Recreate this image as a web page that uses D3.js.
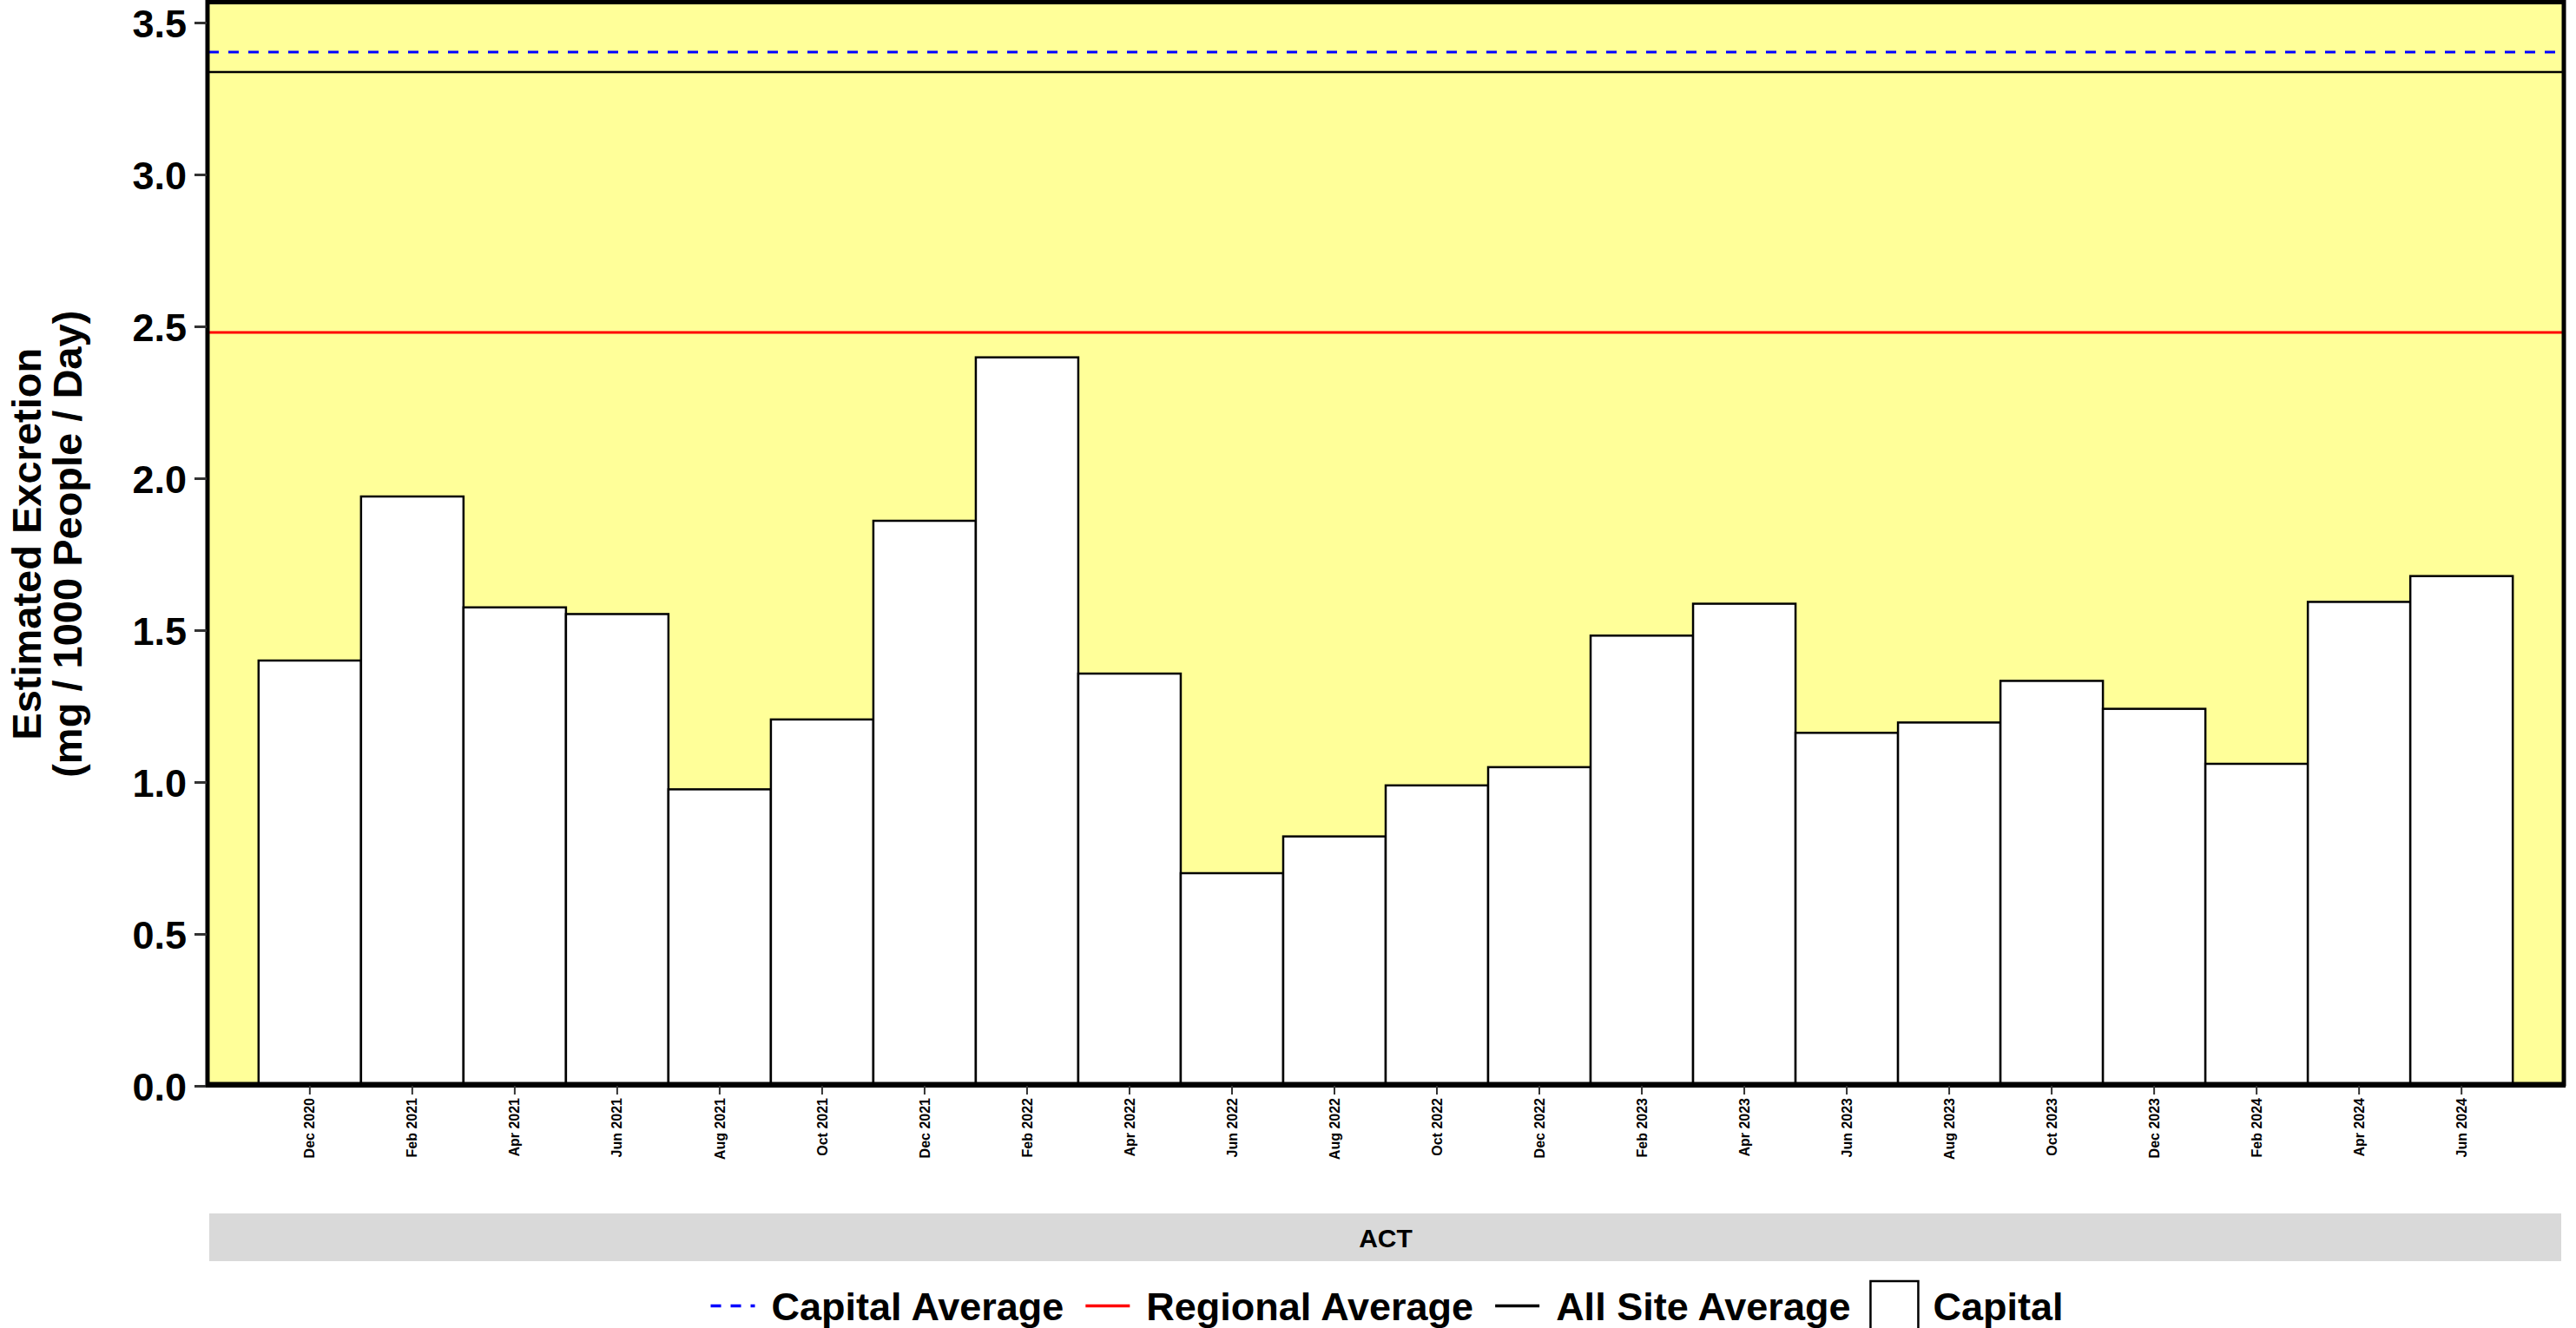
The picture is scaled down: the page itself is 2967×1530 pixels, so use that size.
<!DOCTYPE html>
<html>
<head>
<meta charset="utf-8">
<script src="https://cdn.jsdelivr.net/npm/d3@7"></script>
<style>
  body { margin: 0; background: #fff; }
  svg { display: block; font-family: "Liberation Sans", Arial, sans-serif; font-weight: bold; }
</style>
</head>
<body>
<svg id="chart" width="2967" height="1530"></svg>
<script>
const months = [
  "Dec 2020", "Feb 2021", "Apr 2021", "Jun 2021", "Aug 2021", "Oct 2021",
  "Dec 2021", "Feb 2022", "Apr 2022", "Jun 2022", "Aug 2022", "Oct 2022",
  "Dec 2022", "Feb 2023", "Apr 2023", "Jun 2023", "Aug 2023", "Oct 2023",
  "Dec 2023", "Feb 2024", "Apr 2024", "Jun 2024"
];
const capitalValues = [
  1.40, 1.94, 1.575, 1.553, 0.976, 1.206,
  1.86, 2.398, 1.357, 0.70, 0.821, 0.989,
  1.049, 1.482, 1.587, 1.162, 1.196, 1.333,
  1.241, 1.06, 1.593, 1.678
];
const yTicks = [0, 0.5, 1.0, 1.5, 2.0, 2.5, 3.0, 3.5];

// reference lines
const capitalAverage = 3.403;
const regionalAverage = 2.48;
const allSiteAverage = 3.337;

const facetLabel = "ACT";
const legendItems = [
  { label: "Capital Average", type: "line", color: "#0000ff", dash: "12,11" },
  { label: "Regional Average", type: "line", color: "#ff0000", dash: null },
  { label: "All Site Average", type: "line", color: "#000000", dash: null },
  { label: "Capital", type: "box" }
];

const panel = { left: 240, right: 2952, top: 2.5, bottom: 1251 };
const panelFill = "#ffff99";

const svg = d3.select("#chart");

const x = d3.scaleBand()
  .domain(months)
  .range([panel.left, panel.right])
  .paddingInner(0)
  .paddingOuter(0.49);

const y = d3.scaleLinear()
  .domain([0, 3.5])
  .range([1251, 26]);

// panel background
svg.append("rect")
  .attr("x", panel.left)
  .attr("y", panel.top)
  .attr("width", panel.right - panel.left)
  .attr("height", panel.bottom - panel.top)
  .attr("fill", panelFill);

// bars
svg.append("g")
  .selectAll("rect")
  .data(months)
  .join("rect")
  .attr("x", d => x(d))
  .attr("y", (d, i) => y(capitalValues[i]))
  .attr("width", x.bandwidth())
  .attr("height", (d, i) => y(0) - y(capitalValues[i]))
  .attr("fill", "#ffffff")
  .attr("stroke", "#000")
  .attr("stroke-width", 2.5);

// horizontal average lines
const hLines = [
  { value: regionalAverage, color: "#ff0000", width: 3, dash: null },
  { value: allSiteAverage, color: "#000000", width: 2.5, dash: null },
  { value: capitalAverage, color: "#0000ff", width: 3, dash: "12,11" }
];
svg.append("g")
  .selectAll("line")
  .data(hLines)
  .join("line")
  .attr("x1", panel.left)
  .attr("x2", panel.right)
  .attr("y1", d => y(d.value))
  .attr("y2", d => y(d.value))
  .attr("stroke", d => d.color)
  .attr("stroke-width", d => d.width)
  .attr("stroke-dasharray", d => d.dash);

// panel border
svg.append("rect")
  .attr("x", panel.left - 1)
  .attr("y", panel.top)
  .attr("width", panel.right - panel.left + 2)
  .attr("height", panel.bottom - panel.top - 2)
  .attr("fill", "none")
  .attr("stroke", "#000")
  .attr("stroke-width", 5);

// y axis
const yAxis = svg.append("g")
  .attr("transform", `translate(${panel.left - 2},0)`)
  .call(d3.axisLeft(y).tickValues(yTicks).tickFormat(d3.format(".1f")).tickSize(14).tickPadding(9));
yAxis.select(".domain").remove();
yAxis.selectAll(".tick line").attr("stroke", "#333").attr("stroke-width", 3);
yAxis.selectAll(".tick text")
  .attr("fill", "#000")
  .style("font-size", "45px")
  .style("font-family", "'Liberation Sans', Arial, sans-serif")
  .style("font-weight", "bold")
  .attr("dy", "0.36em");

// x axis
const xAxis = svg.append("g")
  .attr("transform", `translate(0,${panel.bottom})`)
  .call(d3.axisBottom(x).tickSize(10).tickPadding(4));
xAxis.select(".domain")
  .attr("stroke", "#000")
  .attr("stroke-width", 6)
  .attr("d", `M${panel.left - 3},-1H${panel.right + 3}`);
xAxis.selectAll(".tick line").attr("stroke", "#333").attr("stroke-width", 2);
xAxis.selectAll(".tick text")
  .attr("fill", "#000")
  .style("font-size", "16px")
  .style("font-family", "'Liberation Sans', Arial, sans-serif")
  .style("font-weight", "bold")
  .attr("transform", "rotate(-90)")
  .attr("text-anchor", "end")
  .attr("x", -14)
  .attr("y", 0)
  .attr("dy", "0.35em");

// y axis title, two lines
const yTitle = svg.append("text")
  .attr("transform", `translate(0,${(panel.top + panel.bottom) / 2}) rotate(-90)`)
  .attr("text-anchor", "middle")
  .style("font-size", "47px");
yTitle.append("tspan").attr("x", 0).attr("y", 47).text("Estimated Excretion");
yTitle.append("tspan").attr("x", 0).attr("y", 94).text("(mg / 1000 People / Day)");

// facet strip (below the panel)
svg.append("rect")
  .attr("x", panel.left + 1)
  .attr("y", 1398)
  .attr("width", panel.right - panel.left - 3)
  .attr("height", 55)
  .attr("fill", "#d9d9d9");
svg.append("text")
  .attr("x", (panel.left + panel.right) / 2)
  .attr("y", 1426)
  .attr("dy", "0.36em")
  .attr("text-anchor", "middle")
  .style("font-size", "30px")
  .text(facetLabel);

// legend
const keySize = 57;
const keyTop = 1476;
const textGap = 16;
const itemGap = 22;
const legend = svg.append("g");
let cursor = 0;
legendItems.forEach(item => {
  const g = legend.append("g").attr("transform", `translate(${cursor},0)`);
  if (item.type === "line") {
    g.append("line")
      .attr("x1", 3).attr("x2", keySize - 3)
      .attr("y1", keyTop + keySize / 2).attr("y2", keyTop + keySize / 2)
      .attr("stroke", item.color)
      .attr("stroke-width", 3.5)
      .attr("stroke-dasharray", item.dash);
  } else {
    g.append("rect")
      .attr("x", 1).attr("y", keyTop)
      .attr("width", keySize - 2).attr("height", keySize)
      .attr("fill", "#fff")
      .attr("stroke", "#000")
      .attr("stroke-width", 2.5);
  }
  const t = g.append("text")
    .attr("x", keySize + textGap)
    .attr("y", keyTop + keySize / 2)
    .attr("dy", "0.36em")
    .style("font-size", "45px")
    .text(item.label);
  cursor += keySize + textGap + t.node().getComputedTextLength() + itemGap;
});
const legendWidth = cursor - itemGap;
legend.attr("transform", `translate(${(panel.left + panel.right) / 2 - legendWidth / 2},0)`);
</script>
</body>
</html>
